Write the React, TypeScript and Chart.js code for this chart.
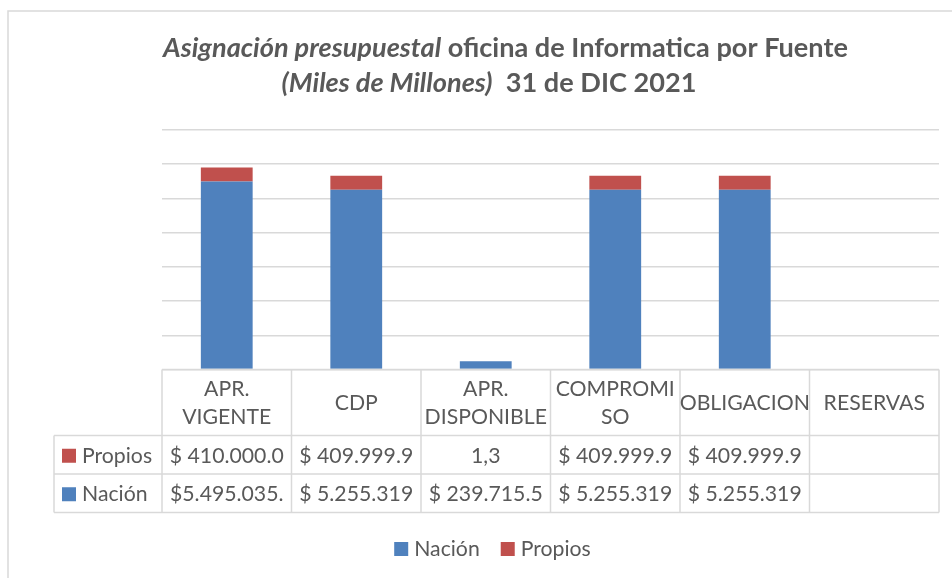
import React, { useEffect, useRef } from "react";
import { Chart, registerables } from "chart.js";

Chart.register(...registerables);

// ---- Data ----
const categories: string[][] = [
  ["APR.", "VIGENTE"],
  ["CDP"],
  ["APR.", "DISPONIBLE"],
  ["COMPROMI", "SO"],
  ["OBLIGACION"],
  ["RESERVAS"],
];
const nacion: (number | null)[] = [5495035, 5255319, 239715.5, 5255319, 5255319, null];
const propios: (number | null)[] = [410000.0, 409999.9, 1.3, 409999.9, 409999.9, null];
const nacionLabels: string[] = ["$5.495.035.", "$ 5.255.319", "$ 239.715.5", "$ 5.255.319", "$ 5.255.319", ""];
const propiosLabels: string[] = ["$ 410.000.0", "$ 409.999.9", "1,3", "$ 409.999.9", "$ 409.999.9", ""];
const yMax = 7000000;
const yStep = 1000000;

// ---- Styles ----
const BLUE = "#4F81BD";
const RED = "#C0504D";
const TEXT = "#595959";
const GRID = "#d9d9d9";
const FONT = "Lato, 'Open Sans', sans-serif";

const tableLabels: string[][] = [propiosLabels, nacionLabels];

type Seg = { t: string; i: boolean };

function drawTitle(ctx: CanvasRenderingContext2D) {
  const line1: Seg[] = [
    { t: "Asignación presupuestal", i: true },
    { t: " oficina de Informatica por Fuente", i: false },
  ];
  const line2: Seg[] = [
    { t: "(Miles de Millones)", i: true },
    { t: "  31 de DIC 2021", i: false },
  ];
  const font = (i: boolean, s: number) => `${i ? "italic " : ""}bold ${s}px ${FONT}`;
  const measure = (segs: Seg[], s: number) =>
    segs.reduce((w, sg) => {
      ctx.font = font(sg.i, s);
      return w + ctx.measureText(sg.t).width;
    }, 0);
  const size = (100 * 685) / measure(line1, 100);
  const drawLine = (segs: Seg[], cx: number, y: number) => {
    let x = cx - measure(segs, size) / 2;
    ctx.textBaseline = "middle";
    ctx.textAlign = "left";
    ctx.fillStyle = TEXT;
    for (const sg of segs) {
      ctx.font = font(sg.i, size);
      ctx.fillText(sg.t, x, y);
      x += ctx.measureText(sg.t).width;
    }
  };
  drawLine(line1, 505.5, 48);
  drawLine(line2, 489, 83);
}

const tablePlugin = {
  id: "excelTable",
  beforeDraw(chart: any) {
    const ctx: CanvasRenderingContext2D = chart.ctx;
    ctx.save();
    ctx.fillStyle = "#ffffff";
    ctx.fillRect(0, 0, chart.width, chart.height);
    ctx.strokeStyle = GRID;
    ctx.lineWidth = 1.5;
    ctx.beginPath();
    ctx.moveTo(8, chart.height + 5);
    ctx.lineTo(8, 11);
    ctx.lineTo(chart.width + 5, 11);
    ctx.stroke();
    ctx.restore();
  },
  afterDraw(chart: any) {
    const ctx: CanvasRenderingContext2D = chart.ctx;
    const area = chart.chartArea;
    const n = chart.data.labels.length;
    const colW = (area.right - area.left) / n;
    const top = area.bottom;
    const headerH = 66;
    const rowH = 38.5;
    const leftX = 54;
    ctx.save();
    drawTitle(ctx);

    ctx.font = `100px ${FONT}`;
    const fs = (100 * 114) / ctx.measureText("$ 410.000.0").width;
    const tf = `${fs}px ${FONT}`;

    ctx.strokeStyle = GRID;
    ctx.lineWidth = 1.5;
    ctx.beginPath();
    ctx.moveTo(area.left, top);
    ctx.lineTo(area.right, top);
    for (let r = 0; r <= 2; r++) {
      const y = top + headerH + r * rowH;
      ctx.moveTo(leftX, y);
      ctx.lineTo(area.right, y);
    }
    ctx.moveTo(leftX, top + headerH);
    ctx.lineTo(leftX, top + headerH + 2 * rowH);
    for (let c = 0; c <= n; c++) {
      const x = area.left + c * colW;
      ctx.moveTo(x, top);
      ctx.lineTo(x, top + headerH + 2 * rowH);
    }
    ctx.stroke();

    ctx.fillStyle = TEXT;
    ctx.font = tf;
    ctx.textAlign = "center";
    ctx.textBaseline = "middle";
    const xs = chart.scales.x;
    chart.data.labels.forEach((lab: string[], i: number) => {
      const cx = xs.getPixelForValue(i);
      const lines = Array.isArray(lab) ? lab : [lab];
      const lh = 28;
      const cy = top + headerH / 2 + 1;
      lines.forEach((ln, k) => {
        ctx.fillText(ln, cx, cy + (k - (lines.length - 1) / 2) * lh);
      });
    });
    const ds = chart.data.datasets.slice().reverse();
    ds.forEach((d: any, r: number) => {
      const cy = top + headerH + r * rowH + rowH / 2 + 1;
      ctx.fillStyle = d.backgroundColor;
      ctx.fillRect(leftX + 8, cy - 7, 14, 14);
      ctx.fillStyle = TEXT;
      ctx.textAlign = "left";
      ctx.fillText(d.label, leftX + 28, cy);
      ctx.textAlign = "center";
      tableLabels[r].forEach((t, i) => {
        const cx = xs.getPixelForValue(i);
        ctx.save();
        ctx.beginPath();
        ctx.rect(area.left + i * colW + 1, cy - rowH / 2, colW - 2, rowH);
        ctx.clip();
        ctx.fillText(t, cx, cy);
        ctx.restore();
      });
    });

    const items = chart.data.datasets.map((d: any) => ({ label: d.label, color: d.backgroundColor }));
    ctx.font = tf;
    const box = 14, gapText = 6, gapItem = 21;
    const widths = items.map((it: any) => box + gapText + ctx.measureText(it.label).width);
    const total = widths.reduce((a: number, b: number) => a + b, 0) + gapItem * (items.length - 1);
    let x = 492.5 - total / 2;
    const ly = 549;
    items.forEach((it: any, k: number) => {
      ctx.fillStyle = it.color;
      ctx.fillRect(x, ly - 7, box, box);
      ctx.fillStyle = TEXT;
      ctx.textAlign = "left";
      ctx.fillText(it.label, x + box + gapText, ly);
      x += widths[k] + gapItem;
    });
    ctx.restore();
  },
};

export default function App() {
  const ref = useRef<HTMLCanvasElement | null>(null);
  useEffect(() => {
    if (!ref.current) return;
    const chart = new Chart(ref.current, {
      type: "bar",
      data: {
        labels: categories as any,
        datasets: [
          { label: "Nación", data: nacion, backgroundColor: BLUE, barPercentage: 0.4, categoryPercentage: 1 },
          { label: "Propios", data: propios, backgroundColor: RED, barPercentage: 0.4, categoryPercentage: 1 },
        ],
      },
      options: {
        responsive: false,
        animation: false,
        devicePixelRatio: 1,
        layout: { padding: { left: 162, right: 13, top: 130, bottom: 578 - 369.5 } },
        plugins: { legend: { display: false }, title: { display: false }, tooltip: { enabled: false } },
        scales: {
          x: { stacked: true, display: false },
          y: {
            stacked: true,
            min: 0,
            max: yMax,
            ticks: { display: false, stepSize: yStep },
            grid: { color: GRID, lineWidth: 1.5, drawTicks: false },
            border: { display: false },
            afterFit: (s: any) => {
              s.width = 0;
            },
          },
        },
      },
      plugins: [tablePlugin],
    });
    return () => chart.destroy();
  }, []);
  return (
    <div style={{ position: "absolute", left: 0, top: 0, width: 952, height: 578 }}>
      <canvas ref={ref} width={952} height={578} />
    </div>
  );
}
